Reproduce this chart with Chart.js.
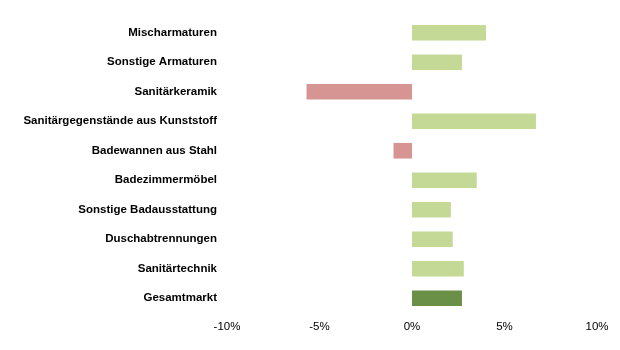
<!DOCTYPE html>
<html>
<head>
<meta charset="utf-8">
<script src="https://cdn.jsdelivr.net/npm/chart.js@4/dist/chart.umd.min.js"></script>
<style>
  html, body { margin: 0; padding: 0; background: #fff; }
  #wrap { width: 620px; height: 350px; }
</style>
</head>
<body>
<div id="wrap"><canvas id="marktChart"></canvas></div>
<script>
const categories = [
  'Mischarmaturen',
  'Sonstige Armaturen',
  'Sanitärkeramik',
  'Sanitärgegenstände aus Kunststoff',
  'Badewannen aus Stahl',
  'Badezimmermöbel',
  'Sonstige Badausstattung',
  'Duschabtrennungen',
  'Sanitärtechnik',
  'Gesamtmarkt'
]
const changes = [4.0, 2.7, -5.7, 6.7, -1.0, 3.5, 2.1, 2.2, 2.8, 2.7]
const xTicks = [-10, -5, 0, 5, 10]

// Gesamtmarkt dunkel, Rückgänge rot, sonst hellgrün
const barColors = changes.map((v, i) => {
  if (categories[i] === 'Gesamtmarkt') return '#6a8f47'
  return v < 0 ? '#d69492' : '#c4d995'
})

Chart.defaults.font.family = '"Liberation Sans", Arial, sans-serif'
Chart.defaults.color = '#000'

const ctx = document.getElementById('marktChart')
new Chart(ctx, {
  type: 'bar',
  data: {
    labels: categories,
    datasets: [{
      data: changes,
      backgroundColor: barColors,
      borderWidth: 0,
      categoryPercentage: 1.0,
      barPercentage: 0.53
    }]
  },
  options: {
    indexAxis: 'y',
    responsive: true,
    maintainAspectRatio: false,
    animation: false,
    layout: { padding: { top: 18, right: 23, left: 0, bottom: 0 } },
    plugins: {
      legend: { display: false },
      tooltip: { enabled: false }
    },
    scales: {
      x: {
        min: -10,
        max: 10,
        afterBuildTicks: (axis) => { axis.ticks = xTicks.map(v => ({ value: v })) },
        afterFit: (axis) => { axis.height = 37 },
        grid: { display: false, drawTicks: false },
        border: { display: false },
        ticks: {
          padding: 7,
          font: { size: 11.5 },
          callback: (v) => v + '%'
        }
      },
      y: {
        afterFit: (axis) => { axis.width = 227 },
        grid: { display: false, drawTicks: false },
        border: { display: false },
        ticks: {
          padding: 10,
          font: { size: 11.5, weight: 'bold' }
        }
      }
    }
  }
})
</script>
</body>
</html>
